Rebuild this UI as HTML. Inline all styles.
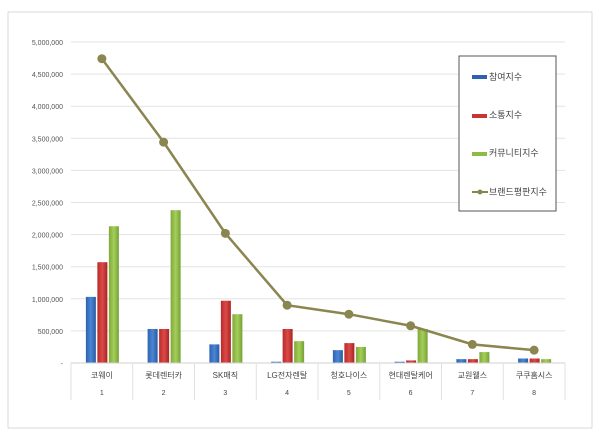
<!DOCTYPE html>
<html><head><meta charset="utf-8"><style>
body{margin:0;background:#fff;}
svg{display:block;font-family:"Liberation Sans","Noto Sans CJK KR",sans-serif;}
</style></head><body>
<svg id="c" width="600" height="435">
<defs>
<linearGradient id="gb" x1="0" x2="1"><stop offset="0" stop-color="#2d62b0"/><stop offset="0.5" stop-color="#4a86d4"/><stop offset="1" stop-color="#2a5aa0"/></linearGradient>
<linearGradient id="gr" x1="0" x2="1"><stop offset="0" stop-color="#b82a2a"/><stop offset="0.5" stop-color="#dc4a48"/><stop offset="1" stop-color="#a82424"/></linearGradient>
<linearGradient id="gg" x1="0" x2="1"><stop offset="0" stop-color="#7fa83a"/><stop offset="0.5" stop-color="#a5cf5a"/><stop offset="1" stop-color="#76a034"/></linearGradient>
</defs>
<rect x="8" y="12" width="584" height="416" fill="#fff" stroke="#d9d9d9"/>
<g id="grid"></g><g id="bars"></g><g id="line"></g><g id="axis"></g>
<g>
<rect x="459" y="56" width="97" height="155" fill="#fff" stroke="#555"/>
<rect x="472" y="75" width="15" height="4" fill="#2d62b0"/>
<text x="489" y="80" font-size="9" fill="#444">참여지수</text>
<rect x="472" y="114" width="15" height="4" fill="#c33"/>
<text x="489" y="118" font-size="9" fill="#444">소통지수</text>
<rect x="472" y="152" width="15" height="4" fill="#8dbb45"/>
<text x="489" y="156" font-size="9" fill="#444">커뮤니티지수</text>
<line x1="472" y1="192" x2="488" y2="192" stroke="#8b8550" stroke-width="2"/><circle cx="480" cy="192" r="2.5" fill="#8b8550"/>
<text x="489" y="195" font-size="9" fill="#444">브랜드평판지수</text>
</g>
</svg>
<script>
const categories=["코웨이","롯데렌터카","SK매직","LG전자렌탈","청호나이스","현대렌탈케어","교원웰스","쿠쿠홈시스"];
const ranks=["1","2","3","4","5","6","7","8"];
const participation=[1030000,530000,290000,20000,200000,20000,60000,70000];
const communication=[1570000,530000,970000,530000,310000,40000,60000,70000];
const community=[2130000,2380000,760000,340000,250000,530000,170000,60000];
const brand=[4740000,3440000,2020000,900000,760000,580000,290000,200000];
const yTicks=[0,500000,1000000,1500000,2000000,2500000,3000000,3500000,4000000,4500000,5000000];
const yTickLabels=["-","500,000","1,000,000","1,500,000","2,000,000","2,500,000","3,000,000","3,500,000","4,000,000","4,500,000","5,000,000"];
const L=71,R=565,Y0=363,Y1=42,MAX=5000000;
const y=v=>Y0-(v/MAX)*(Y0-Y1);
const bw=(R-L)/categories.length;
const xc=i=>L+bw*(i+0.5);
const NS="http://www.w3.org/2000/svg";
function mk(p,t,a){const e=document.createElementNS(NS,t);for(const k in a)e.setAttribute(k,a[k]);document.getElementById(p).appendChild(e);return e;}
yTicks.forEach((t,i)=>{
 if(t>0){const g=mk('grid','line',{x1:L,x2:R,y1:y(t),y2:y(t),stroke:'#e3e3e3'});
 
 }
 const tx=mk('axis','text',{x:63,y:y(t)+3,'font-size':7,fill:'#555','text-anchor':'end'});
 tx.textContent=yTickLabels[i];
 
 
});
const ax=mk('axis','line',{x1:L,x2:R,y1:Y0,y2:Y0,stroke:'#d0d0d0'});


for(let i=0;i<=categories.length;i++){
 const s=mk('axis','line',{x1:L+bw*i,x2:L+bw*i,y1:Y0,y2:400,stroke:'#e0e0e0'});
 
 
}
const series=[[participation,'url(#gb)','bar-participation'],[communication,'url(#gr)','bar-communication'],[community,'url(#gg)','bar-community']];
categories.forEach((c,i)=>{
 series.forEach((s,j)=>{
  const v=s[0][i];
  const r=mk('bars','rect',{x:xc(i)-16+j*11.5,y:y(v),width:10,height:Y0-y(v),fill:s[1]});
  
  
 });
 const t=mk('axis','text',{x:xc(i),y:378,'font-size':8,fill:'#444','text-anchor':'middle'});
 t.textContent=c;
 
 
 const n=mk('axis','text',{x:xc(i),y:395,'font-size':7,fill:'#444','text-anchor':'middle'});
 n.textContent=ranks[i];
 
 
});
const pl=mk('line','polyline',{points:brand.map((v,i)=>xc(i)+','+y(v)).join(' '),fill:'none',stroke:'#8b8550','stroke-width':2.5});


brand.forEach((v,i)=>{
 const p=mk('line','circle',{cx:xc(i),cy:y(v),r:4.5,fill:'#8b8550'});
 
 
});
</script>
</body></html>
